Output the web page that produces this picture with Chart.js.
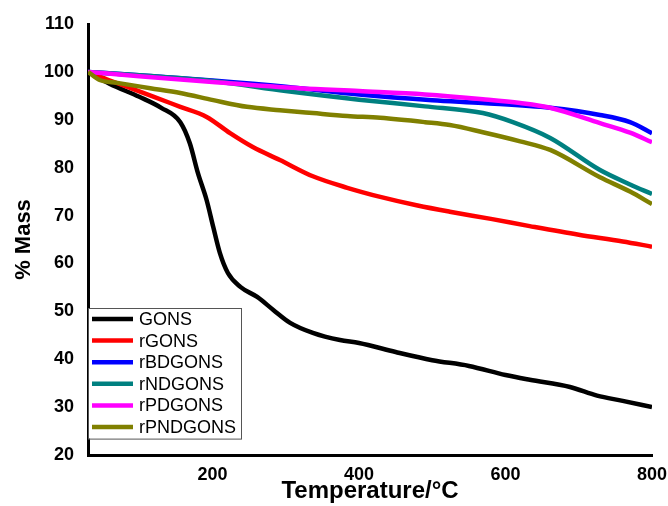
<!DOCTYPE html>
<html>
<head>
<meta charset="utf-8">
<script src="https://cdn.jsdelivr.net/npm/chart.js@4.4.1/dist/chart.umd.min.js"></script>
<style>
  html, body { margin: 0; padding: 0; background: #fff; }
  #wrap { width: 668px; height: 506px; }
</style>
</head>
<body>
<div id="wrap"><canvas id="tgaChart" width="668" height="506"></canvas></div>
<script>
// series names and colours
const seriesNames  = ['GONS', 'rGONS', 'rBDGONS', 'rNDGONS', 'rPDGONS', 'rPNDGONS'];
const seriesColors = ['#000000', '#ff0000', '#0000ff', '#008080', '#ff00ff', '#808000'];

// temperature (°C) / mass (%)
const gonsT = [30, 60, 100, 130, 156, 169, 180, 192, 201, 210, 221, 238, 261, 283, 306, 337, 374, 400, 450, 500, 550, 600, 633, 688, 725, 760, 800];
const gonsM = [100, 97.5, 94.8, 92.5, 89.5, 85.1, 78.9, 73.2, 67.6, 62.2, 58, 55.1, 53, 50.3, 47.6, 45.5, 44, 43.4, 41.5, 39.8, 38.6, 36.7, 35.7, 34.2, 32.4, 31.3, 30];

const rgonsT = [30, 60, 90, 120, 156, 192, 224, 255, 292, 337, 384, 429, 480, 524, 580, 633, 700, 760, 800];
const rgonsM = [100, 98.2, 96.5, 94.8, 92.7, 90.6, 87.2, 84.3, 81.6, 78.2, 75.8, 73.9, 72.1, 70.8, 69.3, 67.8, 66, 64.6, 63.5];

const rbdT = [30, 100, 200, 300, 400, 500, 569, 661, 729, 770, 800];
const rbdM = [100, 99.3, 98.2, 96.9, 95.3, 94.1, 93.5, 92.5, 91, 89.5, 87.2];

const rndT = [30, 100, 200, 300, 400, 490, 569, 610, 661, 729, 770, 800];
const rndM = [100, 99.3, 98.1, 96, 94.2, 92.8, 91.4, 89.5, 86.2, 79.5, 76.5, 74.5];

const rpdT = [30, 100, 200, 319, 400, 490, 569, 620, 661, 729, 770, 800];
const rpdM = [100, 99.1, 97.9, 96.6, 96, 95.3, 94.3, 93.5, 92.5, 89.3, 87.3, 85.3];

const rpndT = [30, 46, 70, 115, 156, 201, 247, 292, 337, 384, 429, 490, 524, 569, 620, 661, 729, 770, 800];
const rpndM = [100, 98.3, 97.7, 96.6, 95.6, 94.1, 92.7, 92, 91.4, 90.8, 90.4, 89.5, 88.9, 87.4, 85.5, 83.7, 78, 75, 72.4];

const xTicks = [200, 400, 600, 800];
const yTicks = [20, 30, 40, 50, 60, 70, 80, 90, 100, 110];

const allT = [gonsT, rgonsT, rbdT, rndT, rpdT, rpndT];
const allM = [gonsM, rgonsM, rbdM, rndM, rpdM, rpndM];

const FONT = "'Liberation Sans', Arial, sans-serif";

// legend box drawn inside the plot, bottom-left
const boxLegend = {
    id: 'boxLegend',
    afterDraw(chart) {
        const { ctx, chartArea } = chart;
        const left = chartArea.left, top = 308, w = 153, rowH = 21.6;
        const h = rowH * seriesNames.length + 1;
        ctx.save();
        ctx.fillStyle = '#fff';
        ctx.fillRect(left + 1, top, w, h);
        ctx.strokeStyle = '#555';
        ctx.lineWidth = 1;
        ctx.strokeRect(left + 0.5, top + 0.5, w, h);
        ctx.font = `18px ${FONT}`;
        ctx.textBaseline = 'middle';
        chart.data.datasets.forEach((ds, i) => {
            const y = top + 11 + i * rowH;
            ctx.strokeStyle = ds.borderColor;
            ctx.lineWidth = 4.5;
            ctx.beginPath();
            ctx.moveTo(left + 4, y);
            ctx.lineTo(left + 45, y);
            ctx.stroke();
            ctx.fillStyle = '#000';
            ctx.fillText(ds.label, left + 51, y + 1);
        });
        ctx.restore();
    }
};

const datasets = seriesNames.map((name, i) => ({
    label: name,
    data: allT[i].map((t, j) => ({ x: t, y: allM[i][j] })),
    borderColor: seriesColors[i],
    backgroundColor: seriesColors[i],
    borderWidth: 4.5,
    pointRadius: 0,
    cubicInterpolationMode: 'monotone',
    order: seriesNames.length - i,
}));

new Chart(document.getElementById('tgaChart'), {
    type: 'line',
    data: { datasets },
    plugins: [boxLegend],
    options: {
        responsive: false,
        animation: false,
        layout: { padding: { top: 24, right: 16, left: 0, bottom: 0 } },
        plugins: { legend: { display: false }, tooltip: { enabled: false } },
        scales: {
            x: {
                type: 'linear',
                min: 30, max: 800,
                afterBuildTicks: (s) => { s.ticks = xTicks.map(v => ({ value: v })); },
                afterFit: (s) => { s.height = 51; s.paddingLeft = 0; s.paddingRight = 0; },
                grid: { display: false, drawTicks: false },
                border: { color: '#000', width: 3 },
                ticks: {
                    color: '#000', padding: 9, maxRotation: 0,
                    font: { family: FONT, size: 18, weight: 'bold' }
                },
                title: {
                    display: true, text: 'Temperature/°C', color: '#000',
                    padding: { top: 0, bottom: 0 },
                    font: { family: FONT, size: 24, weight: 'bold' }
                }
            },
            y: {
                min: 20, max: 110,
                afterBuildTicks: (s) => { s.ticks = yTicks.map(v => ({ value: v })); },
                afterFit: (s) => { s.width = 88; s.paddingTop = 0; s.paddingBottom = 0; },
                grid: { display: false, drawTicks: false },
                border: { color: '#000', width: 3 },
                ticks: {
                    color: '#000', padding: 14,
                    font: { family: FONT, size: 18, weight: 'bold' }
                },
                title: {
                    display: true, text: '% Mass', color: '#000',
                    padding: { top: 11, bottom: 0 },
                    font: { family: FONT, size: 22, weight: 'bold' }
                }
            }
        }
    }
});
</script>
</body>
</html>
